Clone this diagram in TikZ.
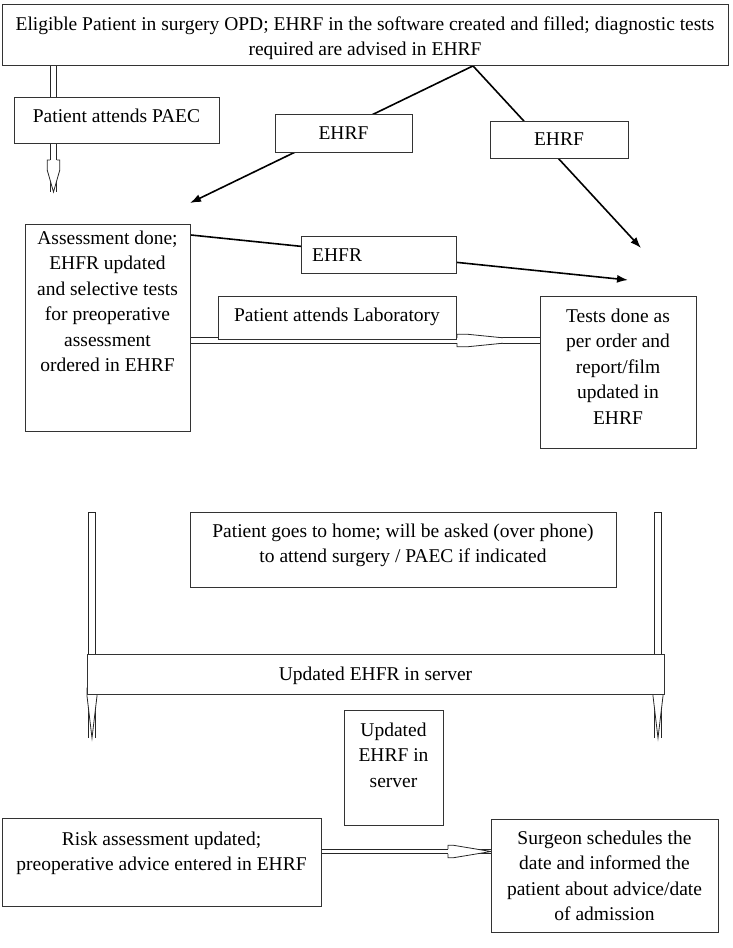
\documentclass[tikz,border=0pt]{standalone}
\usepackage{fontspec}
\setmainfont{Liberation Serif}
\usetikzlibrary{calc,arrows.meta}
\pgfdeclarelayer{background}
\pgfsetlayers{background,main}
% open "pencil" arrow head: tip, rotation, length, parallel part, half width, shaft half width
\newcommand{\penhead}[6]{%
  \begin{scope}[shift={#1},rotate=#2]
    \fill[white] (-#3,#5) -- (-#3+#4,#5) -- (0,0) -- (-#3+#4,-#5) -- (-#3,-#5) -- cycle;
    \draw[conn] (-#3,#6) -- (-#3,#5) -- (-#3+#4,#5) -- (0,0) -- (-#3+#4,-#5) -- (-#3,-#5) -- (-#3,-#6);
  \end{scope}}
\begin{document}
\begin{tikzpicture}[x=1pt,y=-1pt,
  box/.style={draw=black!80, line width=0.9pt, fill=white, anchor=north west, inner sep=0pt},
  txt/.style={font=\fontsize{19.5}{25.5}\selectfont, align=center, inner sep=0pt, text=black},
  conn/.style={draw=black!85, line width=0.8pt},
  dbl/.style={draw=black!85, line width=0.8pt, double=white, double distance=#1},
  ln/.style={draw=black, line width=1.6pt, -{Latex[length=11pt,width=8pt]}}]
\useasboundingbox (0,0) rectangle (733,948);

% boxes
\node[box, minimum width=726pt, minimum height=61pt] (top) at (2,4) {};
\node[box, minimum width=205pt, minimum height=46pt] (paec) at (14,97) {};
\node[box, minimum width=137pt, minimum height=38pt] (e1) at (275,114) {};
\node[box, minimum width=138pt, minimum height=37pt] (e2) at (490,121) {};
\node[box, minimum width=165pt, minimum height=207pt] (ass) at (25,224) {};
\node[box, minimum width=155pt, minimum height=37pt] (ehfr) at (301,236) {};
\node[box, minimum width=238pt, minimum height=43pt] (lab) at (218,296) {};
\node[box, minimum width=156pt, minimum height=152pt] (tests) at (540,296) {};
\node[box, minimum width=426pt, minimum height=75pt] (home) at (190,512) {};
\node[box, minimum width=577pt, minimum height=40pt] (bar) at (87,654) {};
\node[box, minimum width=99pt, minimum height=115pt] (upd) at (344,710) {};
\node[box, minimum width=319pt, minimum height=88pt] (risk) at (2,818) {};
\node[box, minimum width=227pt, minimum height=113pt] (surg) at (491,819) {};

% texts
\node[txt, anchor=north] (toptxt) at (365,16.5) {Eligible Patient in surgery OPD; EHRF in the software created and filled; diagnostic tests\\required are advised in EHRF};
\node[txt, anchor=base] (paectxt) at (116.5,122.5) {Patient attends PAEC};
\node[txt, anchor=base] (e1txt) at (343.5,139.5) {EHRF};
\node[txt, anchor=base] (e2txt) at (559,145.5) {EHRF};
\node[txt, anchor=north] (asstxt) at (107.5,230.5) {Assessment done;\\EHFR updated\\and selective tests\\for preoperative\\assessment\\ordered in EHRF};
\node[txt, anchor=base west] (ehfrtxt) at (312,261.5) {EHFR};
\node[txt, anchor=base] (labtxt) at (337,321.5) {Patient attends Laboratory};
\node[txt, anchor=north] (teststxt) at (618,308.5) {Tests done as\\per order and\\report/film\\updated in\\EHRF};
\node[txt, anchor=north] (hometxt) at (403,523.5) {Patient goes to home; will be asked (over phone)\\to attend surgery / PAEC if indicated};
\node[txt, anchor=base] (bartxt) at (375.5,680.5) {Updated EHFR in server};
\node[txt, anchor=north] (updtxt) at (393.5,722.5) {Updated\\EHRF in\\server};
\node[txt, anchor=north] (risktxt) at (161.5,831.5) {Risk assessment updated;\\preoperative advice entered in EHRF};
\node[txt, anchor=north] (surgtxt) at (604.5,830.5) {Surgeon schedules the\\date and informed the\\patient about advice/date\\of admission};

% free ends
\coordinate (apex) at ($(top.south west)+(471,0)$);
\coordinate (t1) at (190,203);
\coordinate (t2) at (641,248);
\coordinate (t3) at (628,280);
\coordinate (s3) at (ass.north east |- 0,235);
\coordinate (paectip) at (53.5,192);
\coordinate (ly) at (0,340.5);
\coordinate (ry) at (0,851.5);
\coordinate (v1s) at (92,512);
\coordinate (v1e) at (92,738);
\coordinate (v2s) at (658,512);
\coordinate (v2e) at (658,738);

\begin{pgfonlayer}{background}
  % single-line arrows
  \draw[ln] (apex) -- (t1);
  \draw[ln] (apex) -- (t2);
  \draw[ln] (s3) -- (t3);
  % double arrow to PAEC
  \draw[dbl=5.9pt] (top.south west -| paectip) -- (paectip);
  \penhead{(paectip)}{-90}{32}{10}{6.3}{3.35}
  % double arrow to laboratory / tests
  \draw[dbl=4.6pt] (ass.east |- ly) -- (tests.west |- ly);
  \begin{scope}[shift={(tests.west |- ly)}]
    \fill[white] (-83,6.3) -- (-73,6.3) -- (-37,2.7) -- (-37,-2.7) -- (-73,-6.3) -- (-83,-6.3) -- cycle;
    \draw[conn] (-83,2.7) -- (-83,6.3) -- (-73,6.3) -- (-37,2.7);
    \draw[conn] (-83,-2.7) -- (-83,-6.3) -- (-73,-6.3) -- (-37,-2.7);
  \end{scope}
  % vertical double arrows through the server bar
  \draw[dbl=6.2pt] (v1s) -- (v1e);
  \draw[conn] ($(v1s)+(-3.5,0)$) -- ($(v1s)+(3.5,0)$);
  \penhead{(v1e)}{-90}{50}{8}{5}{3.5}
  \draw[dbl=6.2pt] (v2s) -- (v2e);
  \draw[conn] ($(v2s)+(-3.5,0)$) -- ($(v2s)+(3.5,0)$);
  \penhead{(v2e)}{-90}{50}{8}{5}{3.5}
  % risk -> surgeon
  \draw[dbl=3.9pt] (risk.east |- ry) -- (surg.west |- ry);
  \penhead{(surg.west |- ry)}{0}{43}{5}{6.3}{2.35}
\end{pgfonlayer}
\end{tikzpicture}
\end{document}
